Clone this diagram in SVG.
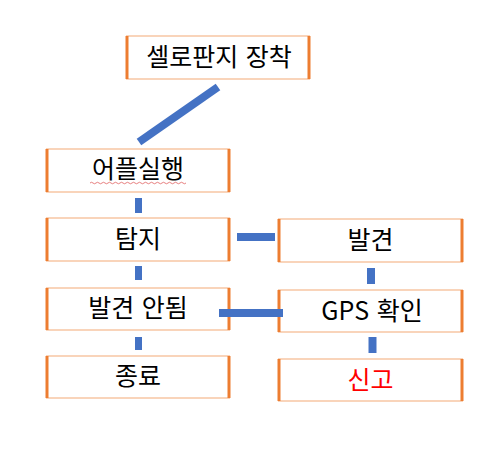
<svg xmlns="http://www.w3.org/2000/svg" width="493" height="456" viewBox="0 0 493 456">
<style>
.box{fill:#fff;stroke:#F9D4BA;stroke-width:2}
.side{stroke:#ED7D31;stroke-width:3}
.t{font-family:"Noto Sans CJK KR","Malgun Gothic",sans-serif;font-size:25px;fill:#000;text-anchor:middle;word-spacing:2px}
.red{fill:#FF0000}
.c{stroke:#4472C4;fill:none}
</style>
<rect width="493" height="456" fill="#fff"/>
<g id="n1"><rect class="box" x="127" y="36" width="182" height="43"/><line class="side" x1="127" y1="36" x2="127" y2="79"/><line class="side" x1="309" y1="36" x2="309" y2="79"/><text class="t" x="219" y="66">셀로판지 장착</text></g>
<g id="n2"><rect class="box" x="47" y="149" width="182" height="43"/><line class="side" x1="47" y1="149" x2="47" y2="192"/><line class="side" x1="229" y1="149" x2="229" y2="192"/><text class="t" x="138" y="178">어플실행</text><path d="M90 183 q1.5 -1.5 3 0 t3 0 t3 0 t3 0 t3 0 t3 0 t3 0 t3 0 t3 0 t3 0 t3 0 t3 0 t3 0 t3 0 t3 0 t3 0 t3 0 t3 0 t3 0 t3 0 t3 0 t3 0 t3 0 t3 0 t3 0 t3 0 t3 0 t3 0 t3 0 t3 0 t3 0 t3 0" fill="none" stroke="#E06060" stroke-width="0.8"/></g>
<g id="n3"><rect class="box" x="47" y="218" width="182" height="43"/><line class="side" x1="47" y1="218" x2="47" y2="261"/><line class="side" x1="229" y1="218" x2="229" y2="261"/><text class="t" x="138" y="248">탐지</text></g>
<g id="n4"><rect class="box" x="47" y="288" width="182" height="42"/><line class="side" x1="47" y1="288" x2="47" y2="330"/><line class="side" x1="229" y1="288" x2="229" y2="330"/><text class="t" x="138" y="317">발견 안됨</text></g>
<g id="n5"><rect class="box" x="47" y="356" width="182" height="42"/><line class="side" x1="47" y1="356" x2="47" y2="398"/><line class="side" x1="229" y1="356" x2="229" y2="398"/><text class="t" x="138" y="385">종료</text></g>
<g id="n6"><rect class="box" x="279" y="219" width="183" height="43"/><line class="side" x1="279" y1="219" x2="279" y2="262"/><line class="side" x1="462" y1="219" x2="462" y2="262"/><text class="t" x="370.5" y="249">발견</text></g>
<g id="n7"><rect class="box" x="279" y="290" width="183" height="42"/><line class="side" x1="279" y1="290" x2="279" y2="332"/><line class="side" x1="462" y1="290" x2="462" y2="332"/><text class="t" x="372" y="320">GPS 확인</text></g>
<g id="n8"><rect class="box" x="279" y="359" width="183" height="42"/><line class="side" x1="279" y1="359" x2="279" y2="401"/><line class="side" x1="462" y1="359" x2="462" y2="401"/><text class="t red" x="370.5" y="389">신고</text></g>
<g id="connectors">
<line class="c" x1="218" y1="87" x2="139" y2="142" stroke-width="8"/>
<line class="c" x1="138.5" y1="198" x2="138.5" y2="213" stroke-width="7"/>
<line class="c" x1="138.5" y1="266" x2="138.5" y2="280" stroke-width="7"/>
<line class="c" x1="138.5" y1="337" x2="138.5" y2="350" stroke-width="7"/>
<line class="c" x1="237" y1="237" x2="275" y2="237" stroke-width="8"/>
<line class="c" x1="219" y1="313" x2="283" y2="313" stroke-width="8"/>
<line class="c" x1="371" y1="268" x2="371" y2="284" stroke-width="8"/>
<line class="c" x1="372.5" y1="337" x2="372.5" y2="353" stroke-width="8"/>
</g>
</svg>
